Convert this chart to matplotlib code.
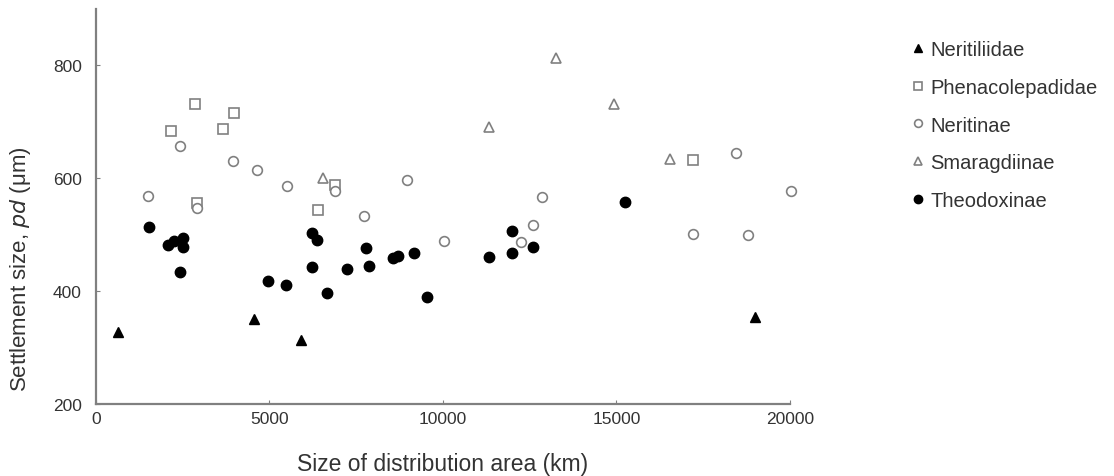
import matplotlib
matplotlib.use("Agg")
import matplotlib.pyplot as plt

plt.rcParams['font.family'] = ['Liberation Sans', 'DejaVu Sans']

# data
neritiliidae_x = [650, 4550, 5900, 19000]
neritiliidae_y = [327, 350, 314, 354]

phenaco_x = [2180, 2850, 3660, 3970, 6410, 6880, 2920, 17200]
phenaco_y = [683, 732, 687, 716, 543, 588, 557, 632]

neritinae_x = [1500, 2440, 2920, 3950, 4640, 5510, 6880, 7730, 8980, 10040,
               12250, 12590, 12850, 17200, 18450, 18790, 20020]
neritinae_y = [569, 657, 548, 631, 615, 587, 578, 534, 597, 489,
               487, 517, 567, 501, 644, 499, 578]

smaragd_x = [6550, 11330, 13250, 14930, 16550]
smaragd_y = [600, 691, 814, 731, 635]

theodox_x = [1540, 2070, 2250, 2510, 2510, 2440, 4950, 5470, 6240, 6380, 6240,
             6670, 7250, 7800, 7870, 8560, 8720, 9180, 9540, 11330, 12000,
             12000, 12590, 15260]
theodox_y = [513, 481, 489, 494, 479, 434, 418, 410, 503, 490, 443,
             397, 439, 477, 444, 459, 463, 467, 390, 460, 507,
             467, 479, 558]

grey = '#808080'

fig = plt.figure(figsize=(11.14, 4.77), dpi=100)
ax = fig.add_axes([0.086, 0.151, 0.623, 0.828])

ax.plot(neritiliidae_x, neritiliidae_y, '^', ms=7, color='black',
        label='Neritiliidae', clip_on=False)
ax.plot(phenaco_x, phenaco_y, 's', ms=7.5, mfc='white', mec=grey, mew=1.2,
        label='Phenacolepadidae', clip_on=False)
ax.plot(neritinae_x, neritinae_y, 'o', ms=7, mfc='white', mec=grey, mew=1.2,
        label='Neritinae', clip_on=False)
ax.plot(smaragd_x, smaragd_y, '^', ms=7, mfc='white', mec=grey, mew=1.2,
        label='Smaragdiinae', clip_on=False)
ax.plot(theodox_x, theodox_y, 'o', ms=7.5, color='black',
        label='Theodoxinae', clip_on=False)

ax.set_xlim(0, 20000)
ax.set_ylim(200, 900)
ax.set_xticks([0, 5000, 10000, 15000, 20000])
ax.set_yticks([200, 400, 600, 800])

for s in ['top', 'right']:
    ax.spines[s].set_visible(False)
for s in ['left', 'bottom']:
    ax.spines[s].set_color(grey)
    ax.spines[s].set_linewidth(1.6)

ax.tick_params(axis='both', direction='in', length=3, color=grey,
               labelsize=12.5, labelcolor='#333333')
ax.tick_params(axis='x', pad=5)
ax.tick_params(axis='y', pad=10)

ax.set_xlabel('Size of distribution area (km)', fontsize=16.5, color='#333333',
              labelpad=19)
ax.set_ylabel('Settlement size, $\\it{pd}$ (μm)', fontsize=16, color='#333333')
ax.yaxis.set_label_coords(-0.091, 0.345)

fig.legend(loc='upper left', bbox_to_anchor=(0.81, 0.935), frameon=False,
           fontsize=14.5, markerscale=0.8, handlelength=0.6,
           handletextpad=0.3, labelspacing=0.93, borderpad=0,
           labelcolor='#333333')

fig.savefig('out.png', dpi=100, facecolor='white')
